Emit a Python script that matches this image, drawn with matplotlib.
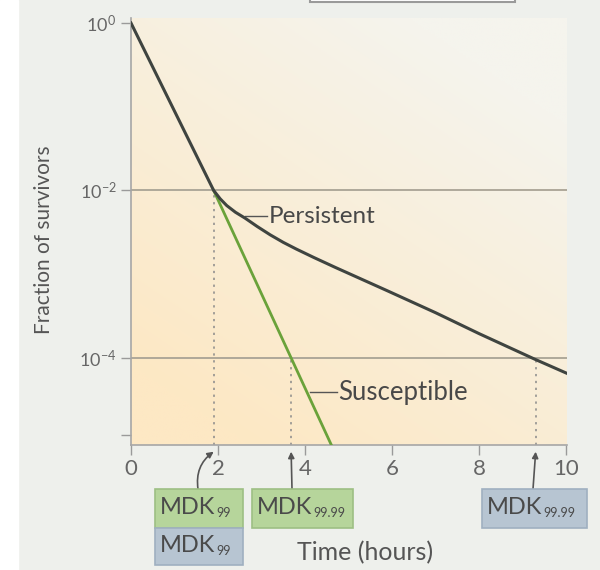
import numpy as np
import matplotlib
matplotlib.use('Agg')
from matplotlib import pyplot as plt
from matplotlib.patches import Rectangle
from matplotlib.text import Annotation

plt.rcParams['font.family'] = ['Lato', 'DejaVu Sans']
plt.rcParams['mathtext.fontset'] = 'custom'
plt.rcParams['mathtext.rm'] = 'Lato'
plt.rcParams['mathtext.it'] = 'Lato:italic'

# 数据：时间（小时）与存活比例（log10）
persist_t = [0, 1.9, 2.05, 2.2, 2.4, 2.62, 2.9, 3.2, 3.5, 3.8, 4.2, 4.7, 5.9, 7.0, 8.0, 9.3, 10.0]
persist_log = [0, -2.0, -2.1, -2.18, -2.26, -2.33, -2.43, -2.53, -2.62, -2.7, -2.8, -2.92,
               -3.2, -3.46, -3.71, -4.02, -4.18]
suscept_t = [1.9, 3.68, 4.64]
suscept_log = [-2.0, -4.0, -5.08]
mdk_times = [1.9, 3.68, 9.3]      # MDK99, MDK99.99（易感），MDK99.99（持留）
mdk_levels = [-2, -4, -4]
ytick_pos = [0, -2, -4]
ytick_labels = ['$10^{0}$', '$10^{-2}$', '$10^{-4}$']
xticks = [0, 2, 4, 6, 8, 10]

fig = plt.figure(figsize=(6, 5.7), dpi=100, facecolor='#eef0ec')
fig.patches.append(Rectangle((0, 0), 18 / 600, 1, transform=fig.transFigure,
                             color='white', zorder=0))
# 顶部残留的框线
fig.patches.append(Rectangle((310 / 600, 1 - 2 / 570), 205 / 600, 0.05, transform=fig.transFigure,
                             fc='white', ec='#9a9a9a', lw=1.5, zorder=0))
ax = fig.add_axes([131 / 600, 1 - 445 / 570, 436 / 600, 427 / 570])
ax.set_yscale('log')
ylo, yhi = 10 ** -5.04, 10 ** 0.06
ax.set_xlim(0, 10.02)
ax.set_ylim(ylo, yhi)

# 背景渐变
gx, gy = np.meshgrid(np.linspace(0, 1, 200), np.linspace(0, 1, 200))
w = np.clip(0.8 * gy + 0.55 * gx - 0.15, 0, 1)
c0 = np.array([253, 232, 196]) / 255
c1 = np.array([245, 244, 237]) / 255
img = c0[None, None, :] * (1 - w[..., None]) + c1[None, None, :] * w[..., None]
ax.imshow(img, extent=[0, 1, 0, 1], transform=ax.transAxes, origin='lower',
          aspect='auto', zorder=0)

for lv in [-2, -4]:
    ax.axhline(10 ** lv, color='#a9a395', lw=1.3, zorder=1)

for t, lv in zip(mdk_times, mdk_levels):
    ax.plot([t, t], [ylo, 10 ** lv], color='#8a8a8a', lw=1.1, ls=(0, (1.5, 3)), zorder=1)

ax.plot(suscept_t, 10 ** np.array(suscept_log), color='#6aa23a', lw=2, zorder=3)
ax.plot(persist_t, 10 ** np.array(persist_log), color='#3f4440', lw=2.2, zorder=4,
        solid_joinstyle='round')

ax.plot([2.62, 3.13], [10 ** -2.31, 10 ** -2.31], color='#555555', lw=1)
ax.text(3.17, 10 ** -2.31, 'Persistent', fontsize=17.5, color='#484848', va='center')
ax.plot([4.11, 4.73], [10 ** -4.41, 10 ** -4.41], color='#555555', lw=1)
ax.text(4.76, 10 ** -4.41, 'Susceptible', fontsize=18.5, color='#484848', va='center')

ax.set_yticks([10 ** v for v in ytick_pos])
ax.set_yticklabels(ytick_labels)
ax.set_yticks([10 ** -4.92], minor=True)
ax.set_yticklabels([''], minor=True)
ax.set_xticks(xticks)
ax.tick_params(axis='both', colors='#9a9a9a', labelcolor='#666666', labelsize=13,
               length=7, width=1)
ax.tick_params(axis='x', labelsize=16, pad=3)
ax.tick_params(axis='y', which='minor', colors='#9a9a9a', length=7, width=1)
for s in ['top', 'right']:
    ax.spines[s].set_visible(False)
for s in ['left', 'bottom']:
    ax.spines[s].set_color('#a6a6a6')
    ax.spines[s].set_linewidth(1.2)

fig.text(44 / 600, 1 - 240 / 570, 'Fraction of survivors', fontsize=15, color='#555555',
         rotation=90, ha='center', va='center')
fig.text(365 / 600, 1 - 553 / 570, 'Time (hours)', fontsize=18, color='#555555',
         ha='center', va='center')

# MDK 标签框
def box(x0, y0, x1, y1, fc, ec, sub):
    fig.patches.append(Rectangle((x0 / 600, 1 - y1 / 570), (x1 - x0) / 600, (y1 - y0) / 570,
                                 transform=fig.transFigure, fc=fc, ec=ec, lw=1.2, zorder=2))
    main = fig.text((x0 + 5) / 600, 1 - (y0 + y1) / 1140 + 0.002, 'MDK', fontsize=17,
                    color='#4a4a4a', ha='left', va='center', zorder=3)
    ann = Annotation(sub, xy=(1.0, 0.0), xycoords=main, xytext=(0.5, -0.5),
                     textcoords='offset points', fontsize=9, color='#4a4a4a',
                     ha='left', va='bottom', annotation_clip=False)
    ann.set_zorder(3)
    fig.add_artist(ann)

green, green_e = '#b6d59b', '#9dbf84'
blue, blue_e = '#b7c5d2', '#9fb0c0'
box(155, 489, 243, 528, green, green_e, '99')
box(155, 528, 243, 565, blue, blue_e, '99')
box(252, 489, 353, 528, green, green_e, '99.99')
box(482, 489, 587, 528, blue, blue_e, '99.99')

# 箭头
arrow_tails = [(198, 489), (292, 489), (533, 489)]
for t, (px, py) in zip(mdk_times, arrow_tails):
    conn = 'arc3,rad=-0.3' if t < 2 else 'arc3'
    ax.annotate('', xy=(t, 10 ** -5.12), xycoords='data',
                xytext=(px / 600, 1 - py / 570), textcoords='figure fraction',
                arrowprops=dict(arrowstyle='-|>', color='#555555', lw=1.2,
                                mutation_scale=9, connectionstyle=conn, shrinkA=0, shrinkB=0),
                annotation_clip=False)

fig.savefig('out.png', dpi=100, facecolor=fig.get_facecolor())
